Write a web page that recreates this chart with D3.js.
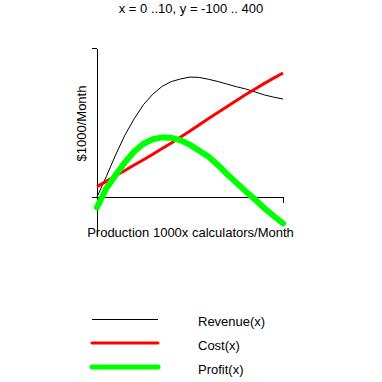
<!DOCTYPE html>
<html>
<head>
<meta charset="utf-8">
<script src="https://cdn.jsdelivr.net/npm/d3@7"></script>
<style>
  html, body { margin: 0; padding: 0; background: #fff; }
  svg { display: block; }
  text { font-family: "Liberation Sans", Arial, sans-serif; font-size: 13px; fill: #000; }
</style>
</head>
<body>
<svg id="chart" width="382" height="382"></svg>
<script>
const titleText = "x = 0 ..10, y = -100 .. 400";
const xLabel = "Production 1000x calculators/Month";
const yLabel = "$1000/Month";
const xDomain = [0, 10];
const yDomain = [-100, 400];
const xTicks = [10];
const yTicks = [400, 0];

const xs      = [0, 0.5, 1, 1.5, 2, 2.5, 3, 3.5, 4, 4.5, 5, 5.5, 6, 6.5, 7, 7.5, 8, 8.5, 9, 9.5, 10];
const revenue = [0, 55, 113, 166, 210, 248, 276, 297, 310, 317, 322, 321, 316, 310, 303, 296, 290, 282, 274, 268, 263];
const cost    = [28, 42, 57, 71, 86, 100, 115, 130, 145, 161, 177, 194, 211, 227, 243, 259, 275, 290, 305, 319, 333];
const profit  = [-28, 23, 59, 93, 122, 143, 155, 160, 159, 152, 140, 124, 108, 86, 61, 38, 15, -7, -30, -51, -71];

const seriesNames = ["Revenue(x)", "Cost(x)", "Profit(x)"];
const seriesValues = [revenue, cost, profit];
const seriesColors = ["#000000", "#ff0000", "#00ff00"];
const seriesWidths = [1, 3, 6];

const svg = d3.select("#chart");
const x = d3.scaleLinear().domain(xDomain).range([97, 283]);
const y = d3.scaleLinear().domain(yDomain).range([234.25, 48]);

svg.append("text").attr("x", 191).attr("y", 13).attr("text-anchor", "middle").text(titleText);

// axes
const yAxis = d3.axisLeft(y).tickValues(yTicks).tickFormat("").tickSize(5).tickSizeOuter(0);
svg.append("g").attr("transform", `translate(${x(0)},0)`).call(yAxis);
const xAxis = d3.axisBottom(x).tickValues(xTicks).tickFormat("").tickSize(6).tickSizeOuter(0);
svg.append("g").attr("transform", `translate(0,${y(0)})`).call(xAxis);
svg.selectAll(".domain, .tick line").attr("stroke", "#000").attr("shape-rendering", "crispEdges");

svg.append("text").attr("x", 190.5).attr("y", 237).attr("text-anchor", "middle").text(xLabel);
svg.append("text").attr("transform", `translate(86,123.5) rotate(-90)`)
  .attr("text-anchor", "middle").text(yLabel);

const line = d3.line().x((d, i) => x(xs[i])).y(d => y(d));
seriesValues.forEach((vals, k) => {
  svg.append("path").datum(vals).attr("d", line)
    .attr("fill", "none").attr("stroke", seriesColors[k])
    .attr("stroke-width", seriesWidths[k])
    .attr("stroke-linejoin", "round").attr("stroke-linecap", k === 2 ? "round" : "butt");
});

// legend
const legY = [319.5, 343, 367];
seriesNames.forEach((name, k) => {
  svg.append("line").attr("x1", 92).attr("x2", 158).attr("y1", legY[k]).attr("y2", legY[k])
    .attr("stroke", seriesColors[k]).attr("stroke-width", k === 2 ? 5 : seriesWidths[k])
    .attr("stroke-linecap", k === 0 ? "butt" : "round");
  svg.append("text").attr("x", 198).attr("y", legY[k] + 6.5).text(name);
});
</script>
</body>
</html>
